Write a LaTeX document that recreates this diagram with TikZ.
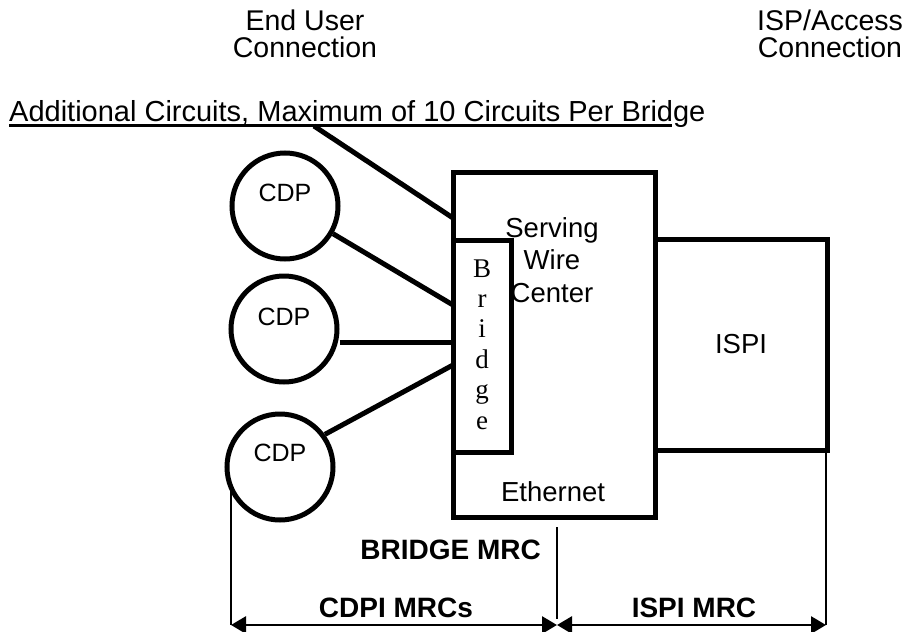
\documentclass[tikz,border=0pt]{standalone}
\usepackage{fontspec}
\setmainfont{Liberation Sans}
\newfontfamily\bridgeserif{Liberation Serif}
\usetikzlibrary{arrows.meta}
\begin{document}
\begin{tikzpicture}[x=1pt,y=-1pt,
  boxline/.style={draw, line width=5pt, rectangle, inner sep=0pt},
  cdpnode/.style={draw, circle, line width=5pt, minimum size=106pt, inner sep=0pt},
  conn/.style={line width=5pt},
  lbl/.style={font=\fontsize{27.5}{30}\selectfont, inner sep=0pt, align=center},
  cdplbl/.style={font=\fontsize{25}{30}\selectfont, inner sep=0pt},
  toplbl/.style={font=\fontsize{28.5}{27}\selectfont, inner sep=0pt, align=center},
  boldlbl/.style={font=\fontsize{28}{30}\selectfont\bfseries, inner sep=0pt},
  letter/.style={font=\fontsize{27}{30}\selectfont\bridgeserif, inner sep=0pt, anchor=base},
  dimline/.style={line width=2pt},
  dimarrow/.style={line width=2.8pt, {Triangle[length=15pt,width=17pt]}-{Triangle[length=15pt,width=17pt]}}
]
\useasboundingbox (0,0) rectangle (908,632);

% titles
\node[toplbl] (enduser) at (305,33.5) {End User\\Connection};
\node[toplbl] (isplbl) at (830,33.5) {ISP/Access\\Connection};
\node[font=\fontsize{29}{30}\selectfont, inner sep=0pt, anchor=base west] (addl) at (9,121) {Additional Circuits, Maximum of 10 Circuits Per Bridge};
\coordinate (ulA) at (9,125.5);
\coordinate (ulB) at (672,125.5);
\draw[line width=3.5pt] (ulA) -- (ulB);

% boxes
\node[boxline, minimum width=172pt, minimum height=211pt] (ispi) at (741,344.5) {};
\node[boxline, minimum width=202pt, minimum height=345pt] (swc) at (554,344.5) {};
\node[boxline, minimum width=58pt, minimum height=212pt] (bridge) at (482,346) {};

\node[lbl] (ispitext) at (741,344) {ISPI};
\node[lbl, font=\fontsize{27.5}{32.5}\selectfont] (swctext) at (552,260) {Serving\\Wire\\Center};
\node[lbl] (eth) at (553,492) {Ethernet};

\foreach \l [count=\i] in {B,r,i,d,g,e}
  \node[letter] (br\i) at (482,{277+30.4*(\i-1)}) {\l};

% CDP circles
\node[cdpnode] (cdp1) at (285,206) {};
\node[cdpnode] (cdp2) at (284,329) {};
\node[cdpnode] (cdp3) at (280,467) {};
\node[cdplbl] (cdp1t) at (285,193) {CDP};
\node[cdplbl] (cdp2t) at (284,317) {CDP};
\node[cdplbl] (cdp3t) at (280,453) {CDP};

% connectors
\coordinate (d0) at (314,126);
\coordinate (s0) at (453,218);
\coordinate (b1) at (453,305);
\coordinate (b2) at (453,342);
\coordinate (b3) at (453,365);
\draw[conn] (d0) -- (s0);
\draw[conn] (cdp1.-30) -- (b1);
\draw[conn] (cdp2.east |- b2) -- (b2);
\draw[conn] (cdp3.36) -- (b3);

% dimensions
\coordinate (lv0) at (231,488);
\coordinate (lv1) at (231,625);
\coordinate (mv0) at (557,527);
\coordinate (mv1) at (557,625);
\coordinate (rv0) at (826,450);
\coordinate (rv1) at (826,625);
\draw[dimline] (lv0) -- (lv1);
\draw[dimline] (mv0) -- ([yshift=6pt]mv1);
\draw[dimline] (rv0) -- (rv1);
\draw[dimarrow] (lv1) -- (mv1);
\draw[dimarrow] (mv1) -- (rv1);

\node[boldlbl, anchor=east] (bmrc) at (541,550) {BRIDGE MRC};
\node[boldlbl] (cdpimrc) at (396,608) {CDPI MRCs};
\node[boldlbl] (ispimrc) at (694,608) {ISPI MRC};
\end{tikzpicture}
\end{document}
